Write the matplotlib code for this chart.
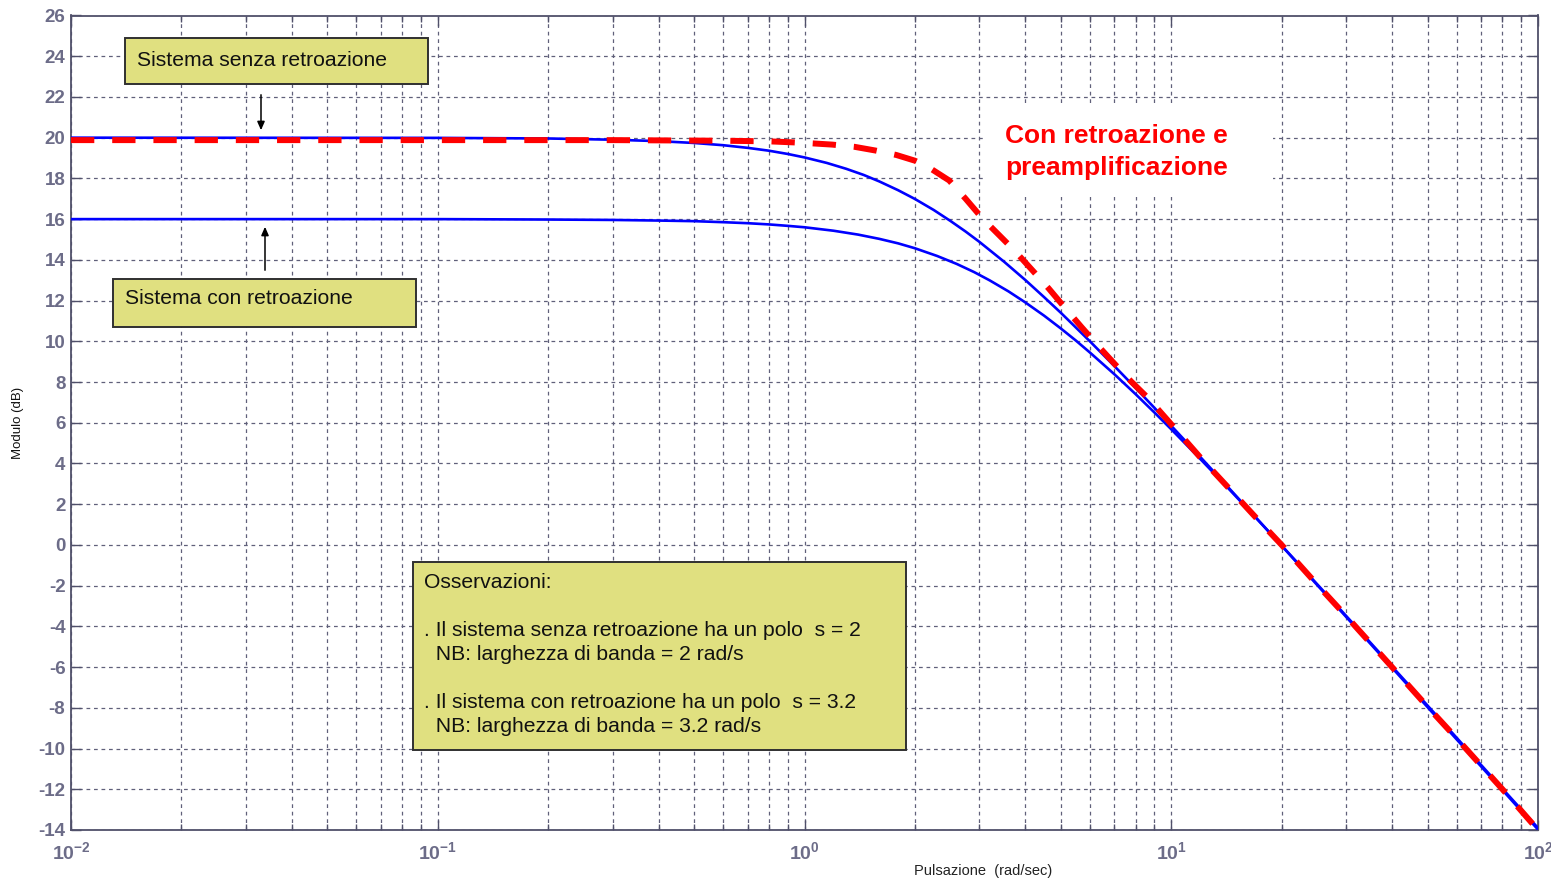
import matplotlib
matplotlib.use("Agg")
import matplotlib.pyplot as plt
from matplotlib.patches import Rectangle, FancyArrowPatch
from matplotlib.ticker import FixedLocator, FixedFormatter, NullFormatter

plt.rcParams['font.family'] = ['Liberation Sans', 'DejaVu Sans']
plt.rcParams['mathtext.fontset'] = 'custom'
plt.rcParams['mathtext.rm'] = 'Liberation Sans'
plt.rcParams['mathtext.it'] = 'Liberation Sans'
plt.rcParams['mathtext.bf'] = 'Liberation Sans:bold'

# ---- data ----
w_open = [0.01, 0.1, 0.2, 0.3, 0.4, 0.5, 0.6, 0.7, 0.8, 0.9, 1.0, 1.15, 1.3, 1.45, 1.6, 1.8,
          2.0, 2.25, 2.5, 2.75, 3.0, 3.5, 4.0, 4.5, 5.0, 5.5, 6, 7, 8, 9, 10, 12, 14, 17, 20,
          25, 30, 40, 50, 60, 80, 100]
db_open = [20.0, 19.99, 19.96, 19.90, 19.83, 19.74, 19.63, 19.50, 19.36, 19.20, 19.03, 18.76,
           18.47, 18.17, 17.85, 17.42, 16.99, 16.45, 15.91, 15.39, 14.88, 13.91, 13.01, 12.17,
           11.40, 10.67, 10.0, 8.78, 7.70, 6.73, 5.85, 4.32, 3.01, 1.35, -0.04, -1.97, -3.54,
           -6.03, -7.97, -9.55, -12.04, -13.98]

w_fb = [0.01, 0.1, 0.2, 0.3, 0.4, 0.5, 0.6, 0.7, 0.8, 0.9, 1.0, 1.2, 1.4, 1.6, 1.8, 2.0, 2.3,
        2.6, 2.9, 3.2, 3.6, 4.0, 4.5, 5.0, 5.5, 6, 7, 8, 9, 10, 12, 14, 17, 20, 25, 30, 40,
        50, 60, 80, 100]
db_fb = [16.0, 16.0, 15.98, 15.96, 15.93, 15.90, 15.85, 15.80, 15.74, 15.67, 15.60, 15.43,
         15.24, 15.03, 14.81, 14.57, 14.19, 13.80, 13.40, 12.99, 12.45, 11.91, 11.26, 10.63,
         10.03, 9.45, 8.38, 7.40, 6.50, 5.68, 4.22, 2.96, 1.34, -0.03, -1.93, -3.49, -5.97,
         -7.89, -9.47, -11.97, -13.9]

w_pre = [0.01, 0.1, 0.3, 0.6, 0.8, 0.93, 1.05, 1.19, 1.37, 1.56, 1.78, 2.0, 2.2, 2.48, 2.75,
         3.05, 3.4, 3.74, 4.2, 4.63, 5.1, 5.69, 6.3, 7.0, 7.8, 8.66, 10.2, 12, 14, 17, 20, 25,
         30, 40, 50, 60, 80, 100, 104]
db_pre = [19.88, 19.88, 19.88, 19.85, 19.82, 19.77, 19.72, 19.66, 19.55, 19.37, 19.15, 18.87,
          18.5, 17.9, 17.0, 16.05, 15.2, 14.45, 13.45, 12.6, 11.7, 10.7, 9.8, 8.9, 8.0, 7.2,
          5.75, 4.3, 3.0, 1.35, 0.0, -1.95, -3.5, -6.0, -7.95, -9.5, -12.0, -14.0, -14.35]

y_ticks = list(range(-14, 27, 2))
x_major = [0.01, 0.1, 1, 10, 100]
x_labels = [r'$\mathbf{10^{-2}}$', r'$\mathbf{10^{-1}}$', r'$\mathbf{10^{0}}$',
            r'$\mathbf{10^{1}}$', r'$\mathbf{10^{2}}$']
x_minor = [m * d for d in [0.01, 0.1, 1, 10] for m in range(2, 10)]

# ---- figure ----
W, H = 1551, 882
fig = plt.figure(figsize=(W / 100, H / 100), dpi=100)
fig.patch.set_facecolor('white')

def fx(px):
    return px / W

def fy(py):
    return 1 - py / H

ax = fig.add_axes([fx(71), fy(830), fx(1538) - fx(71), fy(15.5) - fy(830)])
ax.set_xscale('log')
ax.set_xlim(0.01, 100)
ax.set_ylim(-14, 26)

grid_col = '#60607a'
tick_col = '#6c6c88'
ax.xaxis.set_major_locator(FixedLocator(x_major))
ax.xaxis.set_major_formatter(FixedFormatter(x_labels))
ax.xaxis.set_minor_locator(FixedLocator(x_minor))
ax.xaxis.set_minor_formatter(NullFormatter())
ax.yaxis.set_major_locator(FixedLocator(y_ticks))
ax.set_yticklabels([str(v) for v in y_ticks])

ax.grid(True, which='both', axis='x', color=grid_col, linestyle=(0, (3, 3)), linewidth=0.9)
ax.grid(True, which='major', axis='y', color=grid_col, linestyle=(0, (3, 3)), linewidth=0.9)
ax.tick_params(which='both', direction='in', top=True, right=True, color='#50506a', width=1.0)
ax.tick_params(which='major', length=7)
ax.tick_params(which='minor', length=4)
ax.tick_params(axis='y', labelsize=13.5, labelcolor=tick_col, pad=4)
ax.tick_params(axis='x', labelsize=14, labelcolor=tick_col, pad=8)
for lab in ax.get_yticklabels():
    lab.set_fontweight('bold')
for s in ax.spines.values():
    s.set_color('#50506a')
    s.set_linewidth(1.3)

ax.plot(w_open, db_open, color='#0000ff', lw=1.9, zorder=3)
ax.plot(w_fb, db_fb, color='#0000ff', lw=1.9, zorder=3)
ax.plot(w_pre, db_pre, color='#ff0000', lw=4.3, dashes=(3.9, 3.0), zorder=4, clip_on=False)

fig.text(fx(18), fy(423), 'Modulo (dB)', rotation=90, ha='center', va='center',
         fontsize=9.5, color='#111111')
fig.text(fx(983), fy(871), 'Pulsazione  (rad/sec)', ha='center', va='center',
         fontsize=10.5, color='#222222')

box_face = '#e0e080'

def box(x0, y0, x1, y1):
    r = Rectangle((fx(x0), fy(y1)), fx(x1) - fx(x0), fy(y0) - fy(y1), transform=fig.transFigure,
                  facecolor=box_face, edgecolor='#303030', linewidth=1.4, zorder=10)
    fig.add_artist(r)

box_fs = 15.2
box(125, 38, 428, 84)
fig.text(fx(137), fy(60), 'Sistema senza retroazione', fontsize=box_fs, ha='left', va='center',
         color='#111111', zorder=11)
box(113, 279, 416, 327)
fig.text(fx(125), fy(299), 'Sistema con retroazione', fontsize=box_fs, ha='left', va='center',
         color='#111111', zorder=11)

arr1 = FancyArrowPatch((fx(261), fy(92)), (fx(261), fy(133)), transform=fig.transFigure,
                       arrowstyle='-|>,head_length=5,head_width=2.2', color='black', lw=1.1,
                       zorder=12)
fig.add_artist(arr1)
arr2 = FancyArrowPatch((fx(265), fy(273)), (fx(265), fy(224)), transform=fig.transFigure,
                       arrowstyle='-|>,head_length=5,head_width=2.2', color='black', lw=1.1,
                       zorder=12)
fig.add_artist(arr2)

box(413, 562, 906, 750)
obs_lines = [
    (583, 'Osservazioni:'),
    (631, '. Il sistema senza retroazione ha un polo  s = 2'),
    (655, '  NB: larghezza di banda = 2 rad/s'),
    (703, '. Il sistema con retroazione ha un polo  s = 3.2'),
    (727, '  NB: larghezza di banda = 3.2 rad/s'),
]
for py, t in obs_lines:
    fig.text(fx(424), fy(py), t, fontsize=box_fs, ha='left', va='center', color='#111111', zorder=11)

wr = Rectangle((fx(985), fy(197)), fx(1273) - fx(985), fy(105) - fy(197), transform=fig.transFigure,
               facecolor='white', edgecolor='none', zorder=9)
fig.add_artist(wr)
fig.text(fx(1005), fy(136), 'Con retroazione e', fontsize=19, fontweight='bold', color='#ff0000',
         ha='left', va='center', zorder=11)
fig.text(fx(1005), fy(168), 'preamplificazione', fontsize=19, fontweight='bold', color='#ff0000',
         ha='left', va='center', zorder=11)

fig.savefig('out.png', dpi=100)
